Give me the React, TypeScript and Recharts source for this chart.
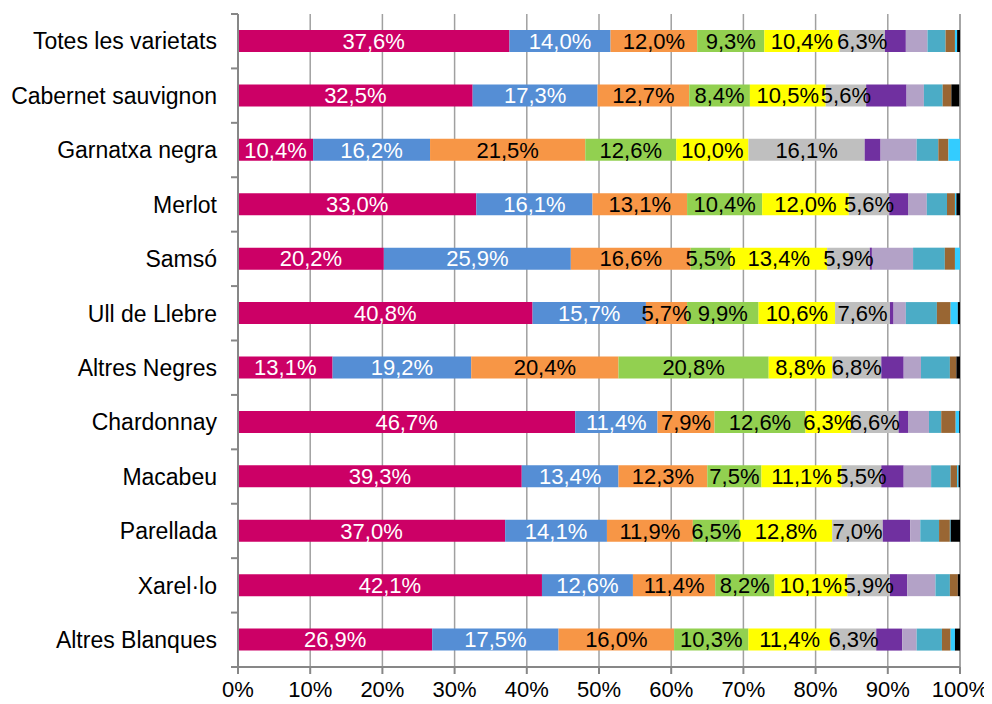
import React from "react";
import { BarChart, Bar, XAxis, YAxis, CartesianGrid, LabelList } from "recharts";

const categories = [
  "Totes les varietats",
  "Cabernet sauvignon",
  "Garnatxa negra",
  "Merlot",
  "Samsó",
  "Ull de Llebre",
  "Altres Negres",
  "Chardonnay",
  "Macabeu",
  "Parellada",
  "Xarel·lo",
  "Altres Blanques",
];

// percentage shares per category (first six are labelled on the chart)
const s1 = [37.6, 32.5, 10.4, 33.0, 20.2, 40.8, 13.1, 46.7, 39.3, 37.0, 42.1, 26.9];
const s2 = [14.0, 17.3, 16.2, 16.1, 25.9, 15.7, 19.2, 11.4, 13.4, 14.1, 12.6, 17.5];
const s3 = [12.0, 12.7, 21.5, 13.1, 16.6, 5.7, 20.4, 7.9, 12.3, 11.9, 11.4, 16.0];
const s4 = [9.3, 8.4, 12.6, 10.4, 5.5, 9.9, 20.8, 12.6, 7.5, 6.5, 8.2, 10.3];
const s5 = [10.4, 10.5, 10.0, 12.0, 13.4, 10.6, 8.8, 6.3, 11.1, 12.8, 10.1, 11.4];
const s6 = [6.3, 5.6, 16.1, 5.6, 5.9, 7.6, 6.8, 6.6, 5.5, 7.0, 5.9, 6.3];
// small unlabelled segments
const s7 = [2.9, 5.6, 2.2, 2.6, 0.3, 0.5, 3.1, 1.3, 3.1, 3.8, 2.4, 3.6];
const s8 = [3.0, 2.4, 5.0, 2.6, 5.7, 1.7, 2.4, 2.9, 3.8, 1.4, 3.9, 2.0];
const s9 = [2.5, 2.6, 3.0, 2.8, 4.4, 4.3, 4.0, 1.7, 2.7, 2.6, 2.0, 3.5];
const s10 = [1.3, 1.2, 1.4, 1.1, 1.4, 1.9, 0.9, 2.0, 0.9, 1.5, 1.1, 1.2];
const s11 = [0.3, 0.0, 1.6, 0.2, 0.7, 1.0, 0.0, 0.5, 0.2, 0.1, 0.0, 0.6];
const s12 = [0.4, 1.1, 0.0, 0.5, 0.0, 0.3, 0.5, 0.1, 0.2, 1.3, 0.3, 0.7];

const xTicks = [0, 10, 20, 30, 40, 50, 60, 70, 80, 90, 100];

const seriesValues = [s1, s2, s3, s4, s5, s6, s7, s8, s9, s10, s11, s12];
const colors = [
  "#CC0066", "#558ED5", "#F79646", "#92D050", "#FFFF00", "#BFBFBF",
  "#7030A0", "#B3A2C7", "#4BACC6", "#996633", "#33CCFF", "#000000",
];
const labelColors = ["#FFFFFF", "#FFFFFF", "#000000", "#000000", "#000000", "#000000"];

const data = categories.map((name, i) => {
  const row: any = { name };
  seriesValues.forEach((vals, k) => {
    row["s" + (k + 1)] = vals[i];
  });
  return row;
});

const W = 984;
const H = 696;
const M = { top: 6, right: 32, bottom: 0, left: 0 };
const X_AXIS_H = 37;
const Y_AXIS_W = 230;
const band = (H - M.top - M.bottom - X_AXIS_H) / categories.length;
const FONT = "'Liberation Sans', Arial, sans-serif";

const CategoryTick = (props: any) => {
  const { x, y, payload, index } = props;
  const axisX = M.left + Y_AXIS_W;
  return (
    <g>
      <line x1={axisX - 7} x2={axisX} y1={y - band / 2} y2={y - band / 2} stroke="#878787" strokeWidth={2} />
      {index === categories.length - 1 && (
        <line x1={axisX - 7} x2={axisX} y1={y + band / 2} y2={y + band / 2} stroke="#878787" strokeWidth={2} />
      )}
      <text x={x} y={y} dy="0.36em" textAnchor="end" fill="#000" fontSize={23} fontFamily={FONT}>
        {payload.value}
      </text>
    </g>
  );
};

const fmt = (v: any) => (v == null ? "" : Number(v).toFixed(1).replace(".", ",") + "%");

export default function App() {
  return (
    <BarChart width={W} height={H} data={data} layout="vertical" margin={M}>
      <CartesianGrid horizontal={false} stroke="#A0A0A0" strokeWidth={1.5} />
      <XAxis
        type="number"
        domain={[0, 100]}
        ticks={xTicks}
        tickFormatter={(v) => v + "%"}
        height={X_AXIS_H}
        stroke="#878787"
        strokeWidth={2}
        tickSize={7}
        tickMargin={7}
        tick={{ fill: "#000", fontSize: 22, fontFamily: FONT }}
        interval={0}
      />
      <YAxis
        type="category"
        dataKey="name"
        width={Y_AXIS_W}
        stroke="#878787"
        strokeWidth={2}
        tickLine={false}
        tickSize={7}
        tickMargin={14}
        tick={<CategoryTick />}
        interval={0}
      />
      {colors.map((c, k) => (
        <Bar key={k} dataKey={"s" + (k + 1)} stackId="a" fill={c} barSize={22} isAnimationActive={false}>
          {k < 6 && (
            <LabelList
              dataKey={"s" + (k + 1)}
              position="center"
              formatter={fmt}
              fill={labelColors[k]}
              fontSize={22}
              fontFamily={FONT}
            />
          )}
        </Bar>
      ))}
    </BarChart>
  );
}
